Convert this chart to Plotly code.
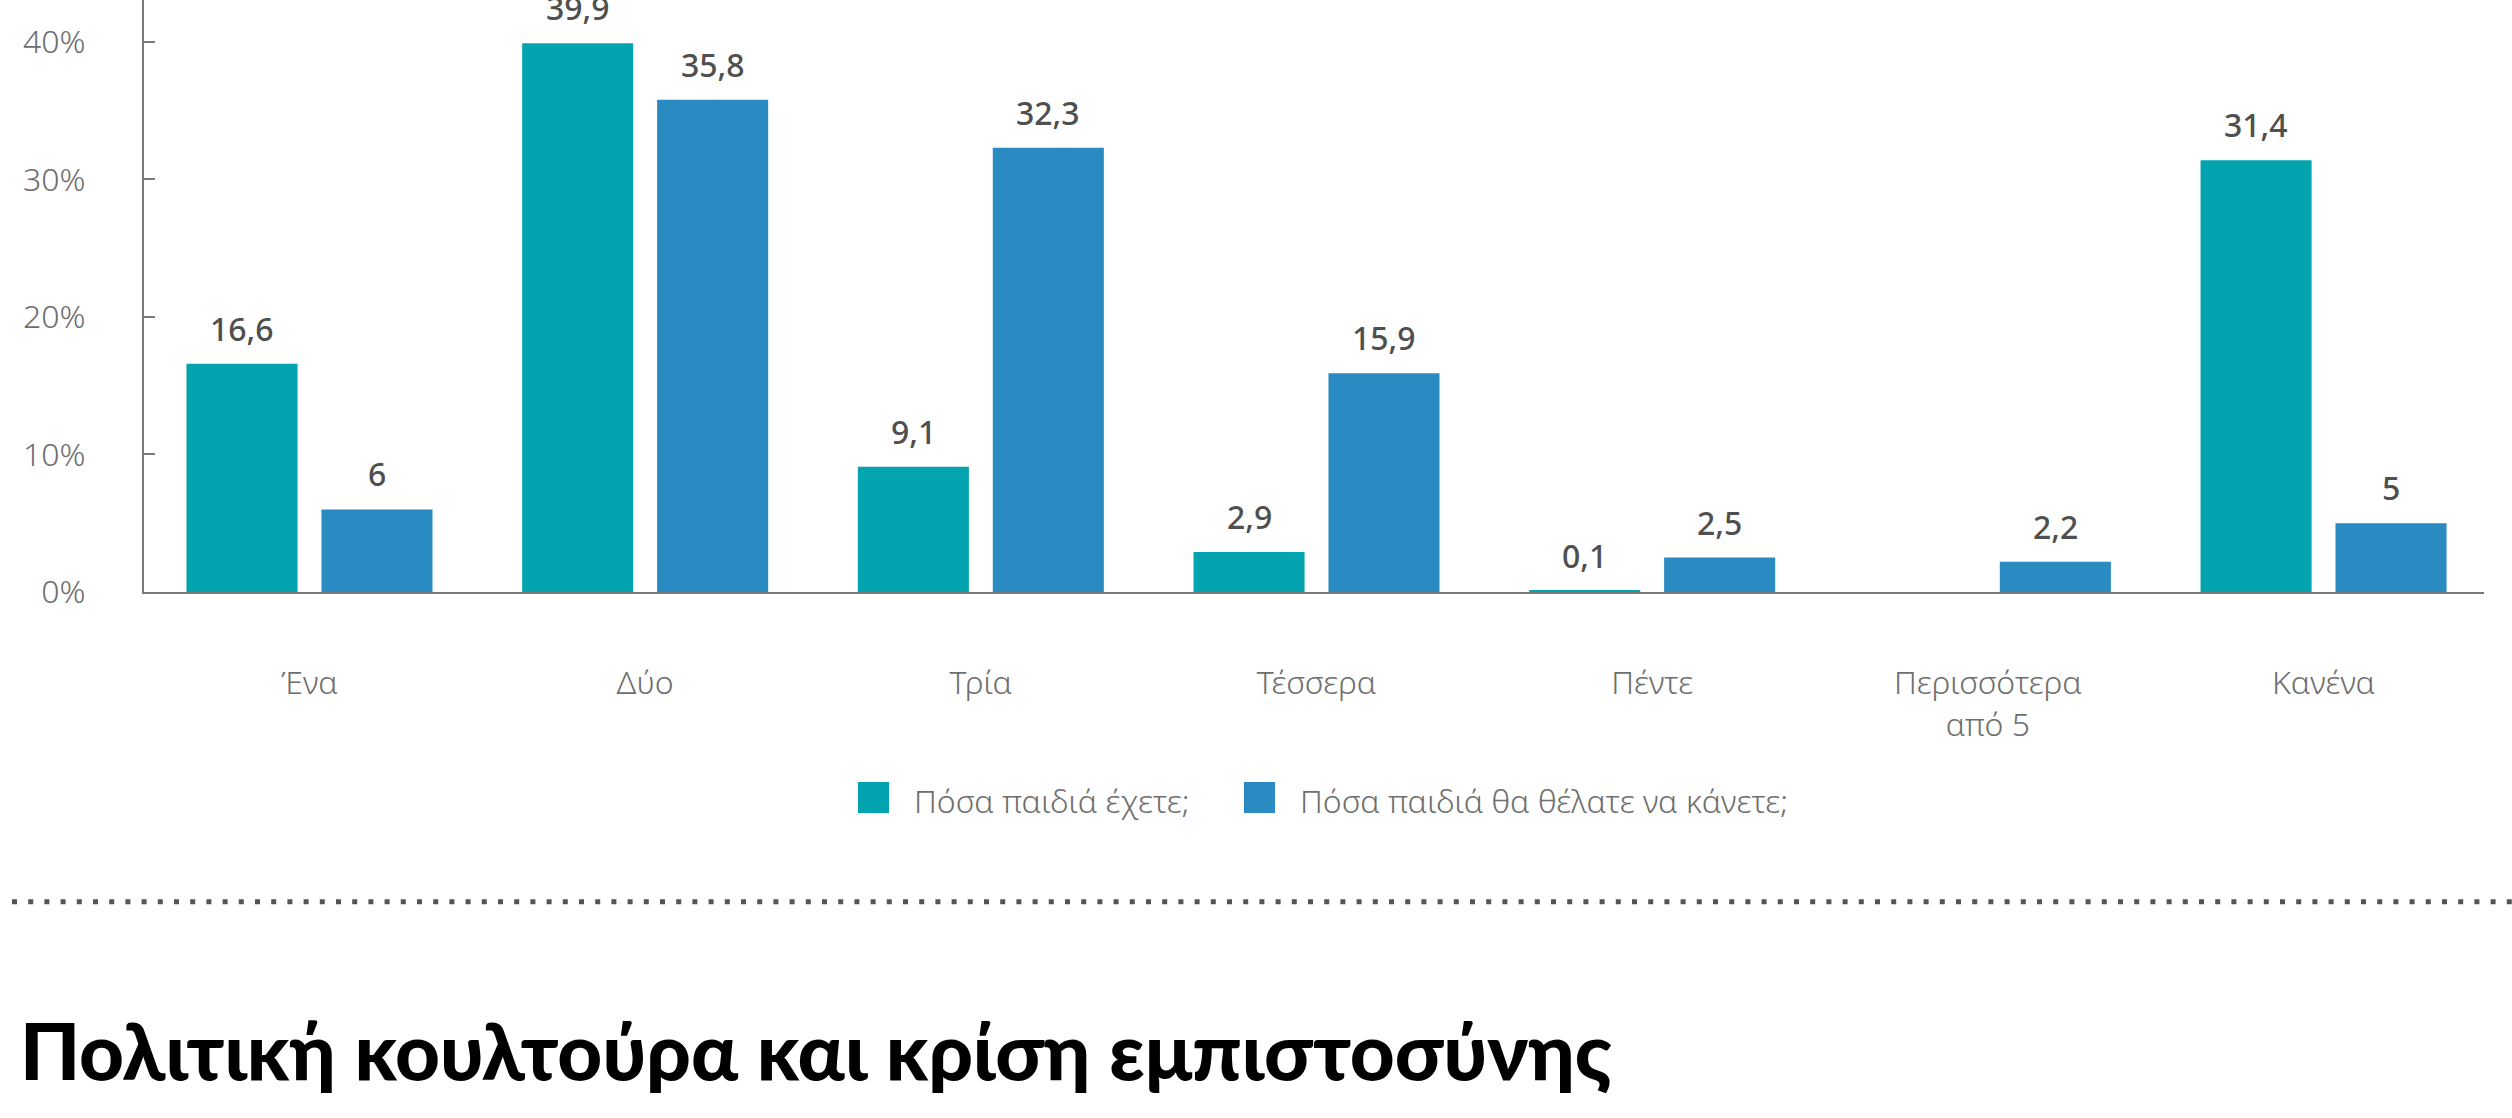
import plotly.graph_objects as go

categories = ["Ένα", "Δύο", "Τρία", "Τέσσερα", "Πέντε", "Περισσότερα<br>από 5", "Κανένα"]
series_names = ["Πόσα παιδιά έχετε;", "Πόσα παιδιά θα θέλατε να κάνετε;"]
have_values = [16.6, 39.9, 9.1, 2.9, 0.1, None, 31.4]
want_values = [6, 35.8, 32.3, 15.9, 2.5, 2.2, 5]
y_tick_values = [0, 10, 20, 30, 40]
y_tick_labels = ["0%", "10%", "20%", "30%", "40%"]
title_text = "Πολιτική κουλτούρα και κρίση εμπιστοσύνης"

TEAL = "#03A4B0"
BLUE = "#298BC1"
LABEL_GREY = "#4f4f4f"
TICK_GREY = "#6e6e6e"
AXIS_GREY = "#7a7a7a"
FONT = "Noto Sans"

W, H = 2512, 1118
ML, MR, MT, MB = 144, 28, 0, 526
PW, PH = W - ML - MR, H - MT - MB


def px_x(px):
    return (px - ML) / PW


def px_y(py):
    return (H - MB - py) / PH


def fmt(v):
    if v is None:
        return ""
    return ("%g" % v).replace(".", ",")


fig = go.Figure()
for name, vals, col in [(series_names[0], have_values, TEAL), (series_names[1], want_values, BLUE)]:
    fig.add_trace(go.Bar(
        x=categories, y=vals, name=name, marker=dict(color=col, line=dict(width=0)),
        showlegend=False, hoverinfo="skip",
    ))

annotations = []
offset_px = 67.4
for vals, sign in [(have_values, -1), (want_values, 1)]:
    for c, v in zip(categories, vals):
        if v is None:
            continue
        annotations.append(dict(
            x=c, y=v, xref="x", yref="y", text=fmt(v), showarrow=False,
            xshift=sign * offset_px, yshift=12, yanchor="bottom", xanchor="center",
            font=dict(family=FONT, size=32, color=LABEL_GREY, weight=500),
        ))

# legend (manual, to reproduce large square swatches)
legend_items = [(series_names[0], TEAL, 858, 912), (series_names[1], BLUE, 1244, 1298)]
shapes = []
for name, col, sx, tx in legend_items:
    shapes.append(dict(type="rect", xref="paper", yref="paper",
                       x0=px_x(sx), x1=px_x(sx + 31), y0=px_y(813), y1=px_y(782),
                       fillcolor=col, line=dict(width=0)))
    annotations.append(dict(x=px_x(tx), y=px_y(800), xref="paper", yref="paper",
                            text=name, showarrow=False, xanchor="left", yanchor="middle",
                            font=dict(family=FONT, size=32, color=TICK_GREY, weight=300)))

# dotted separator
shapes.append(dict(type="line", xref="paper", yref="paper",
                   x0=px_x(12), x1=px_x(2512), y0=px_y(901.7), y1=px_y(901.7),
                   line=dict(color="#555555", width=5, dash="5px,11.2px")))

# section title
annotations.append(dict(x=px_x(18), y=px_y(1050), xref="paper", yref="paper",
                        text=title_text, showarrow=False,
                        xanchor="left", yanchor="middle",
                        font=dict(family="Lato, Noto Sans, sans-serif",
                                  size=78, color="#000000", weight=900)))

fig.update_layout(
    width=W, height=H,
    margin=dict(l=ML, r=MR, t=MT, b=MB, pad=0),
    paper_bgcolor="white", plot_bgcolor="white",
    barmode="group", bargap=0.196, bargroupgap=0.177,
    showlegend=False,
    shapes=shapes, annotations=annotations,
    xaxis=dict(
        range=[-0.493, 6.478], showgrid=False, zeroline=False,
        showline=True, linecolor=AXIS_GREY, linewidth=2,
        ticks="", ticklabelstandoff=62,
        tickfont=dict(family=FONT, size=32, color=TICK_GREY, weight=300),
    ),
    yaxis=dict(
        range=[0, 43.05], showgrid=False, zeroline=False,
        showline=True, linecolor=AXIS_GREY, linewidth=2,
        ticks="inside", ticklen=11, tickwidth=2, tickcolor=AXIS_GREY,
        tickvals=y_tick_values, ticktext=y_tick_labels,
        ticklabelstandoff=50,
        tickfont=dict(family=FONT, size=32, color=TICK_GREY, weight=300),
    ),
)

fig.write_html("out.html")
